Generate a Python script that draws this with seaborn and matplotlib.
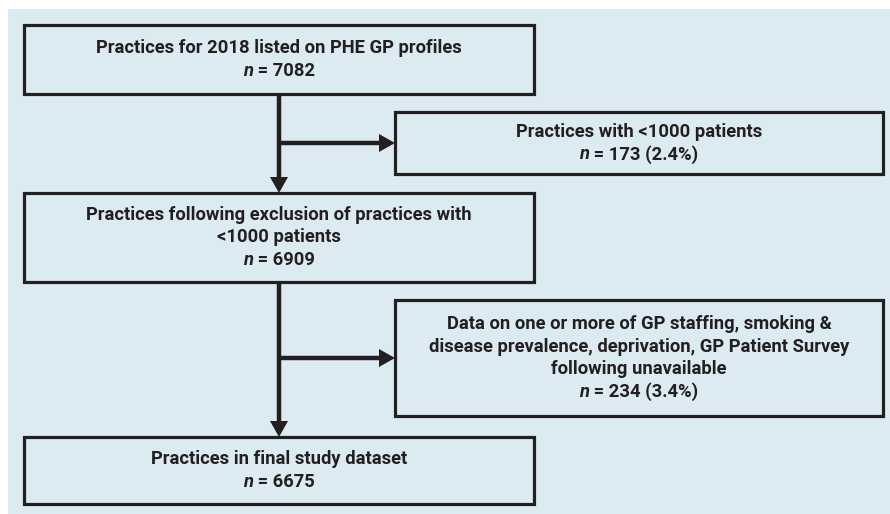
import matplotlib
matplotlib.use("Agg")
import matplotlib.pyplot as plt
from matplotlib.patches import Rectangle, Polygon
import seaborn as sns
import pandas as pd

# ---- content ----
box_titles = [
    ["Practices for 2018 listed on PHE GP profiles"],
    ["Practices with <1000 patients"],
    ["Practices following exclusion of practices with", "<1000 patients"],
    ["Data on one or more of GP staffing, smoking &",
     "disease prevalence, deprivation, GP Patient Survey",
     "following unavailable"],
    ["Practices in final study dataset"],
]
box_counts = ["7082", "173 (2.4%)", "6909", "234 (3.4%)", "6675"]

# ---- layout (pixel coordinates, y downward) ----
box_left = [24, 395, 24, 395, 24]
box_right = [534, 883, 534, 883, 534]
box_top = [25, 112, 193, 300, 437]
box_bottom = [94, 174, 282, 416, 504]

W, H = 890, 514
BG = "#dceaf2"
INK = "#231f20"
FS = 13.2
FONT = "Roboto"
LINE_H = 22.5

sns.set_theme(style="white")
plt.rcParams["font.family"] = [FONT, "DejaVu Sans"]

fig = plt.figure(figsize=(W / 100, H / 100), dpi=100)
fig.patch.set_facecolor("white")
ax = fig.add_axes([0, 0, 1, 1])
ax.set_xlim(0, W)
ax.set_ylim(H, 0)
ax.axis("off")

ax.add_patch(Rectangle((8, 9), W - 8, H - 9 + 2, facecolor=BG, edgecolor="none",
                       zorder=0, clip_on=False))

# connectors
x_main = (box_left[0] + box_right[0]) / 2
segs = pd.DataFrame({
    "x": [x_main, x_main, x_main, x_main, x_main, box_left[1] - 15, x_main, box_left[3] - 15],
    "y": [box_bottom[0], box_top[2] - 14, box_bottom[2], box_top[4] - 14,
          (box_top[1] + box_bottom[1]) / 2, (box_top[1] + box_bottom[1]) / 2,
          (box_top[3] + box_bottom[3]) / 2, (box_top[3] + box_bottom[3]) / 2],
    "seg": [0, 0, 1, 1, 2, 2, 3, 3],
})
sns.lineplot(data=segs, x="x", y="y", units="seg", estimator=None, sort=False,
             color=INK, lw=3.2, ax=ax, legend=False, zorder=2)

def head_down(x, ytip):
    ax.add_patch(Polygon([(x - 9, ytip - 16), (x + 9, ytip - 16), (x, ytip)],
                         closed=True, facecolor=INK, edgecolor="none", zorder=3))

def head_right(xtip, y):
    ax.add_patch(Polygon([(xtip - 16, y - 9), (xtip - 16, y + 9), (xtip, y)],
                         closed=True, facecolor=INK, edgecolor="none", zorder=3))

head_down(x_main, box_top[2])
head_down(x_main, box_top[4])
head_right(box_left[1], (box_top[1] + box_bottom[1]) / 2)
head_right(box_left[3], (box_top[3] + box_bottom[3]) / 2)

for i in range(len(box_titles)):
    ax.add_patch(Rectangle((box_left[i], box_top[i]), box_right[i] - box_left[i],
                           box_bottom[i] - box_top[i], facecolor=BG,
                           edgecolor=INK, lw=2.3, zorder=4))

fig.canvas.draw()
renderer = fig.canvas.get_renderer()

def width_px(s, style):
    t = ax.text(0, 0, s, fontsize=FS, fontweight="bold", style=style)
    w = t.get_window_extent(renderer).width
    t.remove()
    return w

for i in range(len(box_titles)):
    lines = box_titles[i]
    n = len(lines) + 1
    cx = (box_left[i] + box_right[i]) / 2
    cy = (box_top[i] + box_bottom[i]) / 2
    y0 = cy - (n - 1) * LINE_H / 2
    for k, line in enumerate(lines):
        ax.text(cx, y0 + k * LINE_H, line, ha="center", va="center",
                fontsize=FS, fontweight="bold", color=INK, zorder=5)
    yl = y0 + (n - 1) * LINE_H
    part1 = "n"
    part2 = " = " + box_counts[i]
    w1 = width_px(part1, "italic")
    w2 = width_px(part2, "normal")
    xs = cx - (w1 + w2) / 2
    ax.text(xs, yl, part1, ha="left", va="center", fontsize=FS, fontweight="bold",
            style="italic", color=INK, zorder=5)
    ax.text(xs + w1, yl, part2, ha="left", va="center", fontsize=FS,
            fontweight="bold", color=INK, zorder=5)

fig.savefig("out.png", dpi=100, facecolor="white")
